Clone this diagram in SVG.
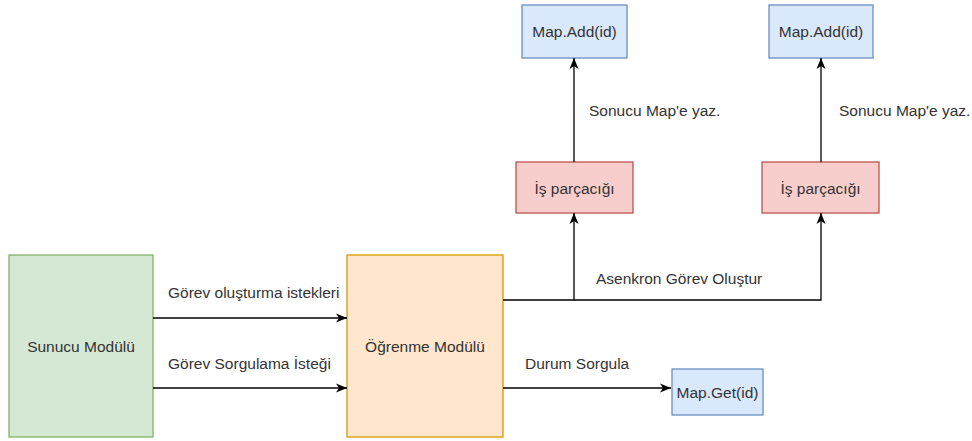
<svg xmlns="http://www.w3.org/2000/svg" width="972" height="441" viewBox="0 0 972 441">
<style>
text{font-family:"Liberation Sans",Arial,sans-serif;font-size:15.5px;fill:#333}
.c{text-anchor:middle;dominant-baseline:central}
.l{dominant-baseline:central}
.e{fill:none;stroke:#000;stroke-width:1.3}
</style>
<defs>
<marker id="ar" markerUnits="userSpaceOnUse" markerWidth="12" markerHeight="12" viewBox="0 0 12 12" refX="11" refY="6" orient="auto">
<path d="M0,1.5 L11,6 L0,10.5 L3,6 z" fill="#000"/>
</marker>
</defs>
<rect width="972" height="441" fill="#fff"/>
<g id="sunucu"><rect x="9" y="255" width="144" height="182" fill="#d5e8d4" stroke="#82b366" stroke-width="1.3"/><text class="c" x="81" y="346">Sunucu Modülü</text></g>
<g id="ogrenme"><rect x="347" y="255" width="156" height="182" fill="#ffe6cc" stroke="#d79b00" stroke-width="1.3"/><text class="c" x="425" y="346">Öğrenme Modülü</text></g>
<g id="mapadd1"><rect x="522" y="5" width="105" height="53" fill="#dae8fc" stroke="#6c8ebf" stroke-width="1.3"/><text class="c" x="574.5" y="31">Map.Add(id)</text></g>
<g id="mapadd2"><rect x="769" y="5" width="104" height="53" fill="#dae8fc" stroke="#6c8ebf" stroke-width="1.3"/><text class="c" x="821" y="31">Map.Add(id)</text></g>
<g id="is1"><rect x="516" y="162" width="117" height="51" fill="#f8cecc" stroke="#b85450" stroke-width="1.3"/><text class="c" x="574.5" y="188">İş parçacığı</text></g>
<g id="is2"><rect x="762" y="162" width="117" height="51" fill="#f8cecc" stroke="#b85450" stroke-width="1.3"/><text class="c" x="820.5" y="188">İş parçacığı</text></g>
<g id="mapget"><rect x="672" y="369" width="91" height="46" fill="#dae8fc" stroke="#6c8ebf" stroke-width="1.3"/><text class="c" x="717.5" y="392">Map.Get(id)</text></g>
<g id="connectors">
<path class="e" d="M153,318 H347" marker-end="url(#ar)"/>
<path class="e" d="M153,388 H347" marker-end="url(#ar)"/>
<path class="e" d="M503,300 H574 V213" marker-end="url(#ar)"/>
<path class="e" d="M574,300 H821 V213" marker-end="url(#ar)"/>
<path class="e" d="M574,162 V58" marker-end="url(#ar)"/>
<path class="e" d="M821,162 V58" marker-end="url(#ar)"/>
<path class="e" d="M503,388 H671" marker-end="url(#ar)"/>
<text class="l" x="168" y="292">Görev oluşturma istekleri</text>
<text class="l" x="168" y="363">Görev Sorgulama İsteği</text>
<text class="l" x="596" y="278">Asenkron Görev Oluştur</text>
<text class="l" x="525" y="363">Durum Sorgula</text>
<text class="l" x="589" y="110">Sonucu Map'e yaz.</text>
<text class="l" x="839" y="110">Sonucu Map'e yaz.</text>
</g>
</svg>
